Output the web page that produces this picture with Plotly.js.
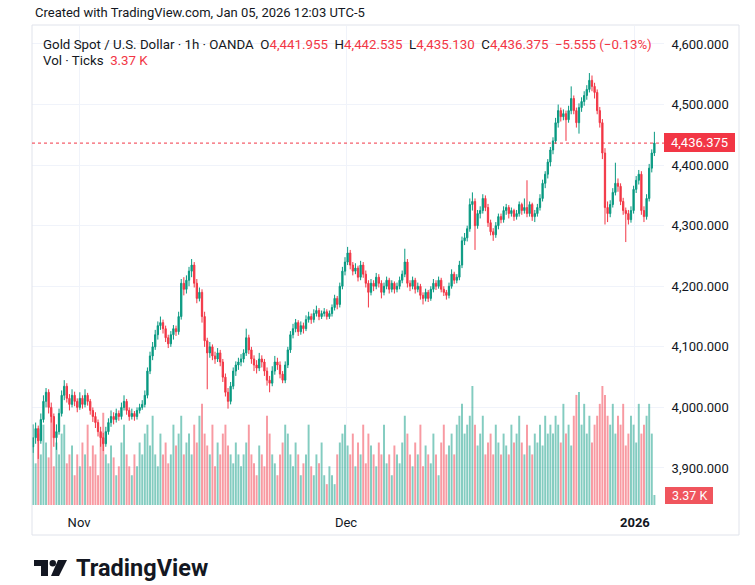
<!DOCTYPE html>
<html><head><meta charset="utf-8">
<script src="https://cdn.plot.ly/plotly-3.0.1.min.js"></script>
<style>html,body{margin:0;padding:0;background:#fff}#chart{width:755px;height:585px}</style>
</head><body><div id="chart"></div>
<script>
// ---- data ----
const opens = [3935,3950,3965,3945,3980,4010,4025,4000,3985,3950,3960,3990,4020,4035,4015,4005,4020,4010,4000,4015,
4005,4020,4010,3995,3985,3975,3960,3950,3940,3960,3975,3985,3980,3990,3985,4000,4010,3995,3985,3990,
3985,3995,4000,4005,4020,4060,4085,4100,4120,4135,4140,4130,4115,4105,4120,4130,4125,4150,4205,4195,
4210,4225,4235,4205,4180,4190,4150,4110,4090,4100,4085,4080,4090,4075,4050,4025,4010,4035,4060,4070,
4075,4080,4090,4115,4095,4080,4070,4065,4080,4075,4060,4045,4040,4060,4075,4070,4055,4045,4070,4095,
4120,4130,4140,4125,4135,4130,4145,4150,4145,4155,4160,4150,4155,4158,4150,4155,4165,4180,4170,4200,
4225,4240,4255,4235,4225,4230,4215,4235,4220,4205,4190,4205,4200,4215,4205,4190,4200,4210,4195,4205,
4195,4200,4210,4220,4240,4205,4200,4210,4195,4200,4185,4180,4190,4180,4195,4205,4200,4210,4195,4190,
4185,4200,4220,4210,4215,4235,4275,4280,4295,4335,4340,4300,4320,4325,4345,4330,4305,4290,4285,4300,
4315,4310,4325,4330,4320,4325,4315,4320,4335,4325,4330,4320,4335,4315,4320,4330,4345,4370,4385,4405,
4425,4440,4470,4490,4480,4485,4475,4490,4510,4490,4470,4495,4505,4515,4525,4540,4530,4520,4490,4470,
4420,4330,4320,4335,4355,4370,4365,4340,4325,4320,4310,4325,4360,4375,4385,4325,4315,4345,4395,4420];
const highs = [3972,3975,3970,3990,4020,4032,4030,4008,3990,3972,3998,4028,4045,4040,4022,4030,4026,4015,4025,4020,
4030,4024,4014,4000,3992,3980,3968,3958,3968,3982,3995,3992,3998,3995,4008,4020,4014,4000,3998,3994,
4000,4006,4012,4028,4066,4092,4108,4128,4142,4150,4145,4135,4120,4126,4136,4135,4158,4212,4215,4218,
4232,4245,4240,4212,4198,4195,4158,4115,4108,4104,4092,4098,4095,4080,4056,4032,4042,4066,4076,4082,
4088,4096,4130,4120,4100,4086,4078,4090,4086,4080,4066,4052,4068,4085,4082,4076,4060,4076,4100,4126,
4138,4146,4144,4142,4140,4152,4158,4155,4162,4168,4164,4160,4164,4162,4160,4170,4186,4184,4206,4232,
4248,4265,4260,4240,4238,4234,4242,4240,4226,4210,4212,4210,4222,4220,4210,4206,4216,4214,4210,4208,
4206,4216,4226,4262,4245,4210,4216,4214,4206,4204,4190,4196,4194,4200,4212,4210,4216,4214,4200,4194,
4206,4228,4224,4220,4242,4282,4288,4300,4345,4355,4345,4326,4332,4352,4350,4336,4310,4296,4306,4320,
4320,4332,4336,4334,4330,4328,4326,4340,4338,4345,4375,4340,4338,4326,4336,4352,4376,4390,4410,4430,
4446,4478,4500,4495,4492,4490,4498,4530,4515,4495,4502,4512,4522,4532,4552,4548,4536,4525,4496,4476,
4428,4340,4342,4362,4404,4378,4370,4346,4330,4326,4332,4366,4382,4392,4390,4332,4352,4402,4426,4455];
const lows = [3925,3940,3915,3940,3975,4000,3990,3975,3935,3930,3955,3985,4012,4008,3995,4000,4002,3992,3996,3998,
4000,4003,3988,3976,3966,3952,3935,3928,3935,3955,3968,3972,3975,3978,3980,3995,3988,3978,3980,3978,
3980,3990,3996,4000,4015,4055,4078,4095,4112,4128,4122,4108,4098,4100,4112,4118,4120,4145,4185,4188,
4200,4215,4198,4172,4175,4140,4100,4030,4082,4078,4072,4075,4068,4042,4018,3998,4005,4030,4052,4062,
4068,4074,4085,4088,4072,4060,4056,4060,4066,4052,4036,4025,4035,4054,4062,4048,4040,4040,4065,4090,
4114,4124,4118,4120,4122,4126,4140,4138,4140,4150,4144,4146,4150,4145,4146,4150,4160,4162,4165,4195,
4218,4235,4228,4218,4220,4208,4210,4214,4198,4165,4185,4192,4195,4198,4180,4185,4195,4188,4190,4188,
4190,4195,4205,4215,4198,4192,4195,4188,4190,4178,4170,4175,4174,4176,4190,4194,4196,4190,4184,4178,
4180,4196,4204,4205,4210,4230,4268,4274,4290,4325,4260,4295,4312,4320,4324,4298,4284,4275,4280,4294,
4304,4305,4318,4312,4315,4308,4310,4315,4318,4320,4314,4315,4308,4306,4315,4325,4340,4362,4378,4398,
4418,4435,4462,4472,4474,4440,4470,4484,4484,4462,4452,4488,4498,4508,4520,4522,4510,4484,4462,4410,
4302,4306,4314,4330,4350,4356,4334,4318,4273,4302,4305,4320,4354,4368,4318,4306,4310,4340,4388,4415];
const closes = [3950,3965,3945,3980,4010,4025,4000,3985,3950,3960,3990,4020,4035,4015,4005,4020,4010,4000,4015,4005,
4020,4010,3995,3985,3975,3960,3950,3940,3960,3975,3985,3980,3990,3985,4000,4010,3995,3985,3990,3985,
3995,4000,4005,4020,4060,4085,4100,4120,4135,4140,4130,4115,4105,4120,4130,4125,4150,4205,4195,4210,
4225,4235,4205,4180,4190,4150,4110,4090,4100,4085,4080,4090,4075,4050,4025,4010,4035,4060,4070,4075,
4080,4090,4115,4095,4080,4070,4065,4080,4075,4060,4045,4040,4060,4075,4070,4055,4045,4070,4095,4120,
4130,4140,4125,4135,4130,4145,4150,4145,4155,4160,4150,4155,4158,4150,4155,4165,4180,4170,4200,4225,
4240,4255,4235,4225,4230,4215,4235,4220,4205,4190,4205,4200,4215,4205,4190,4200,4210,4195,4205,4195,
4200,4210,4220,4240,4205,4200,4210,4195,4200,4185,4180,4190,4180,4195,4205,4200,4210,4195,4190,4185,
4200,4220,4210,4215,4235,4275,4280,4295,4335,4340,4300,4320,4325,4345,4330,4305,4290,4285,4300,4315,
4310,4325,4330,4320,4325,4315,4320,4335,4325,4330,4320,4335,4315,4320,4330,4345,4370,4385,4405,4425,
4440,4470,4490,4480,4485,4475,4490,4510,4490,4470,4495,4505,4515,4525,4540,4530,4520,4490,4470,4420,
4330,4320,4335,4355,4370,4365,4340,4325,4320,4310,4325,4360,4375,4385,4325,4315,4345,4395,4420,4436.375];
const volumesK = [20,14,24,17,27,21,16,30,13,21,17,24,27,14,17,20,10,17,13,21,
17,27,13,20,17,10,24,31,17,14,20,16,10,13,21,27,17,13,10,17,
13,21,17,24,27,20,30,17,13,24,17,21,14,17,27,20,24,30,17,21,
24,17,27,21,30,34,24,20,17,27,13,21,17,24,27,20,17,14,21,17,
13,17,21,27,17,14,10,20,17,13,30,24,17,14,10,17,21,27,24,17,
13,21,17,10,14,17,27,13,10,17,14,21,10,7,13,10,7,17,21,24,
27,20,17,24,13,21,17,27,14,24,20,17,13,21,17,27,14,17,10,20,
17,14,21,30,24,17,13,21,17,27,13,20,17,14,24,17,10,21,27,17,
20,24,17,27,30,34,24,27,30,40,27,20,24,30,17,21,24,17,27,21,
17,24,20,17,27,21,24,30,21,17,27,20,17,24,21,27,20,30,24,27,
24,30,27,21,34,24,27,20,30,37,38,27,34,24,30,21,27,30,34,40,
37,30,27,34,24,30,27,34,20,24,30,27,21,34,24,27,30,34,24,3.37];
const timeTickPos = [17.7, 120.4, 231.5];
const timeTickText = ['Nov', 'Dec', '<b>2026</b>'];
const priceTicks = [3900, 4000, 4100, 4200, 4300, 4400, 4500, 4600];
const lastPrice = 4436.375;
const lastVolumeText = '3.37 K';

// ---- layout helpers ----
const W = 755, H = 585, ML = 32, MR = 91, MT = 26, MB = 80;
const PW = W - ML - MR, PH = H - MT - MB;
const px = x => (x - ML) / PW;
const py = y => (H - MB - y) / PH;
const FONT = 'Roboto, "Liberation Sans", sans-serif';
const TXT = '#131722', UP = '#089981', DN = '#F23645';

const idx = closes.map((_, i) => i);
const volColors = closes.map((c, i) => c >= opens[i] ? 'rgba(8,153,129,0.5)' : 'rgba(242,54,69,0.5)');

const traces = [
  { type: 'bar', x: idx, y: volumesK, yaxis: 'y', marker: { color: volColors, line: { width: 0 } }, hoverinfo: 'skip', showlegend: false },
  { type: 'candlestick', x: idx, open: opens, high: highs, low: lows, close: closes, yaxis: 'y2',
    increasing: { line: { color: UP, width: 1 }, fillcolor: UP },
    decreasing: { line: { color: DN, width: 1 }, fillcolor: DN },
    whiskerwidth: 0, showlegend: false, hoverinfo: 'skip' }
];

const red = s => '<span style="color:' + DN + '">' + s + '</span>';
const legendLine = 'Gold Spot / U.S. Dollar · 1h · OANDA&nbsp;&nbsp;O' + red('4,441.955') +
  '&nbsp;&nbsp;H' + red('4,442.535') + '&nbsp;&nbsp;L' + red('4,435.130') + '&nbsp;&nbsp;C' + red('4,436.375') +
  '&nbsp;&nbsp;' + red('−5.555 (−0.13%)');

const layout = {
  width: W, height: H,
  margin: { l: ML, r: MR, t: MT, b: MB, pad: 0 },
  paper_bgcolor: '#ffffff', plot_bgcolor: '#ffffff',
  font: { family: FONT, color: TXT, size: 12 },
  showlegend: false, bargap: 0.25,
  xaxis: {
    range: [-0.4, 242.7], tickvals: timeTickPos, ticktext: timeTickText,
    showgrid: true, gridcolor: '#f0f3fa', gridwidth: 1, zeroline: false, showline: false,
    ticks: 'outside', ticklen: 5, tickcolor: 'rgba(0,0,0,0)',
    tickfont: { family: FONT, size: 13, color: TXT },
    rangeslider: { visible: false }, fixedrange: true
  },
  yaxis: { range: [0, 161], visible: false, showgrid: false, zeroline: false, fixedrange: true },
  yaxis2: {
    overlaying: 'y', side: 'right', range: [3838.9, 4629.7], tickvals: priceTicks, tickformat: ',.3f',
    showgrid: true, gridcolor: '#f0f3fa', gridwidth: 1, zeroline: false, showline: false,
    ticks: 'outside', ticklen: 4, tickcolor: 'rgba(0,0,0,0)',
    tickfont: { family: FONT, size: 13, color: TXT }, fixedrange: true
  },
  shapes: [
    { type: 'rect', xref: 'paper', yref: 'paper', x0: px(32), x1: px(739), y0: py(535), y1: py(25),
      line: { color: '#e0e3eb', width: 1 }, fillcolor: 'rgba(0,0,0,0)', layer: 'above' },
    { type: 'line', xref: 'paper', yref: 'y2', x0: 0, x1: 1, y0: lastPrice, y1: lastPrice,
      line: { color: DN, width: 1, dash: 'dot' }, layer: 'above' },
    { type: 'rect', xref: 'paper', yref: 'paper', x0: px(664), x1: px(735), y0: py(152), y1: py(133),
      line: { width: 0 }, fillcolor: DN, layer: 'above' },
    { type: 'rect', xref: 'paper', yref: 'paper', x0: px(665), x1: px(713), y0: py(504), y1: py(487),
      line: { width: 0 }, fillcolor: '#f0555d', layer: 'above' },
    // logo mark
    { type: 'path', xref: 'paper', yref: 'paper', fillcolor: TXT, line: { width: 0 },
      path: 'M' + px(34) + ',' + py(560) + ' L' + px(48) + ',' + py(560) + ' L' + px(48) + ',' + py(576) +
            ' L' + px(41) + ',' + py(576) + ' L' + px(41) + ',' + py(566) + ' L' + px(34) + ',' + py(566) + ' Z' },
    { type: 'circle', xref: 'paper', yref: 'paper', fillcolor: TXT, line: { width: 0 },
      x0: px(49.5), x1: px(56), y0: py(566.5), y1: py(560) },
    { type: 'path', xref: 'paper', yref: 'paper', fillcolor: TXT, line: { width: 0 },
      path: 'M' + px(58) + ',' + py(560) + ' L' + px(67) + ',' + py(560) + ' L' + px(59) + ',' + py(576) +
            ' L' + px(51) + ',' + py(576) + ' Z' }
  ],
  annotations: [
    { text: 'Created with TradingView.com, Jan 05, 2026 12:03 UTC-5', xref: 'paper', yref: 'paper',
      x: px(33), y: py(13), xanchor: 'left', yanchor: 'middle', showarrow: false,
      font: { family: FONT, size: 13, color: TXT } },
    { text: legendLine, xref: 'paper', yref: 'paper', x: px(41), y: py(44), xanchor: 'left', yanchor: 'middle',
      showarrow: false, font: { family: FONT, size: 13.3, color: TXT } },
    { text: 'Vol · Ticks&nbsp;&nbsp;' + red('3.37 K'), xref: 'paper', yref: 'paper', x: px(41), y: py(61),
      xanchor: 'left', yanchor: 'middle', showarrow: false, font: { family: FONT, size: 13.3, color: TXT } },
    { text: '4,436.375', xref: 'paper', yref: 'paper', x: px(699.5), y: py(142.5), xanchor: 'center', yanchor: 'middle',
      showarrow: false, font: { family: FONT, size: 13, color: '#ffffff' } },
    { text: lastVolumeText, xref: 'paper', yref: 'paper', x: px(689), y: py(495.5), xanchor: 'center', yanchor: 'middle',
      showarrow: false, font: { family: FONT, size: 12.5, color: '#ffffff' } },
    { text: '<b>TradingView</b>', xref: 'paper', yref: 'paper', x: px(74), y: py(568), xanchor: 'left', yanchor: 'middle',
      showarrow: false, font: { family: FONT, size: 23.5, color: TXT } }
  ]
};

Plotly.newPlot('chart', traces, layout, { staticPlot: true, displayModeBar: false });
</script>
</body></html>
